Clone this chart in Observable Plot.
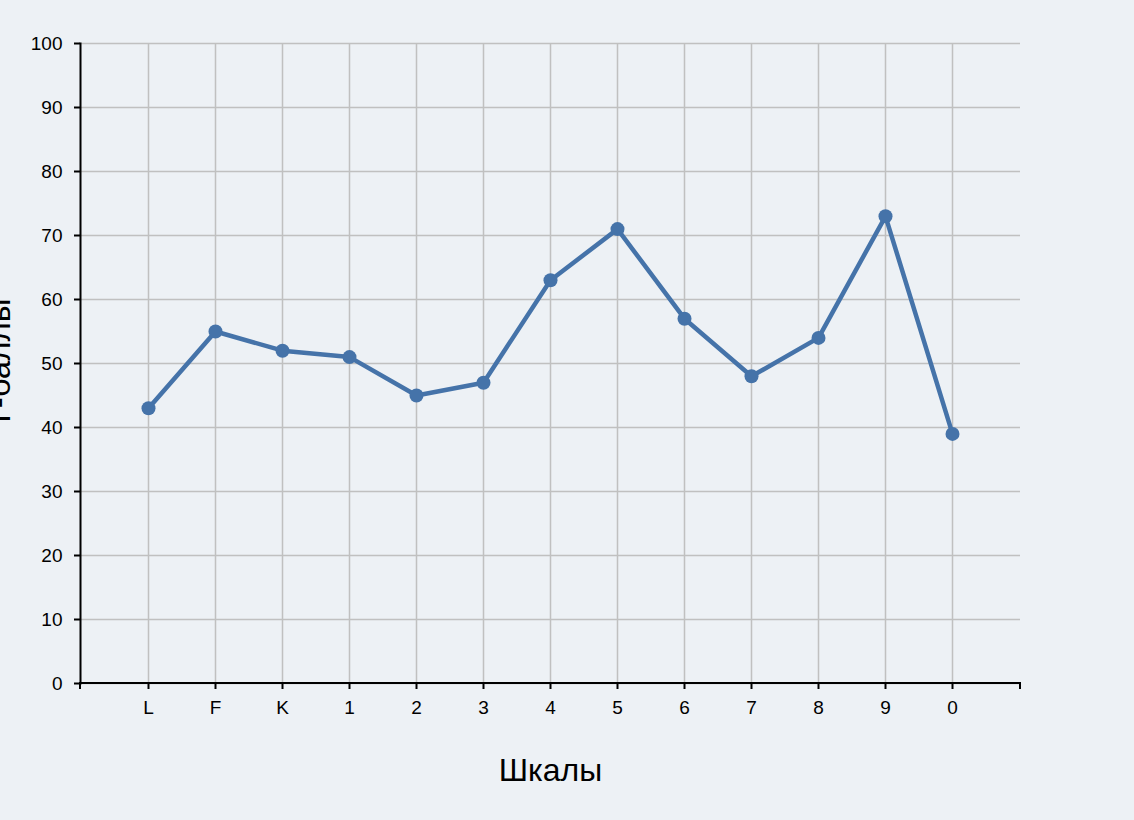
<!DOCTYPE html>
<html>
<head>
<meta charset="utf-8">
<script src="https://cdn.jsdelivr.net/npm/d3@7"></script>
<script src="https://cdn.jsdelivr.net/npm/@observablehq/plot@0.6"></script>
<style>
  html, body { margin: 0; padding: 0; background: #edf1f5; }
  #chart svg { display: block; }
</style>
</head>
<body>
<div id="chart"></div>
<script>
const scales = ["L", "F", "K", "1", "2", "3", "4", "5", "6", "7", "8", "9", "0"];
const tScores = [43, 55, 52, 51, 45, 47, 63, 71, 57, 48, 54, 73, 39];
const yTicks = [0, 10, 20, 30, 40, 50, 60, 70, 80, 90, 100];
const xTitle = "Шкалы";
const yTitle = "Т-баллы";

const data = scales.map((s, i) => ({scale: s, value: tScores[i]}));

const lineColor = "#4573a9";
const gridColor = "#c0c0c0";
const font = "'Liberation Sans', Arial, Helvetica, sans-serif";

// x-axis domain path with outer ticks at the ends of the range (d3-axis style)
function xDomainPath(index, sc, values, dims) {
  const x0 = dims.marginLeft, x1 = dims.width - dims.marginRight;
  const y = dims.height - dims.marginBottom;
  const g = d3.create("svg:g");
  g.append("path")
    .attr("d", `M${x0},${y + 6}V${y}H${x1}V${y + 6}`)
    .attr("fill", "none")
    .attr("stroke", "#000")
    .attr("stroke-width", 2);
  return g.node();
}

const chart = Plot.plot({
  width: 1134,
  height: 820,
  marginTop: 43,
  marginBottom: 137,
  marginLeft: 80,
  marginRight: 114,
  style: {background: "#edf1f5", fontFamily: font, color: "#000"},
  x: {type: "point", domain: scales, padding: 1},
  y: {domain: [0, 100]},
  marks: [
    Plot.gridX(scales, {stroke: gridColor, strokeOpacity: 1, strokeWidth: 1.5}),
    Plot.gridY(yTicks, {stroke: gridColor, strokeOpacity: 1, strokeWidth: 1.5}),
    Plot.axisY(yTicks, {tickSize: 6, tickPadding: 12, fontSize: 19, strokeWidth: 2, tickFormat: d => String(d), label: null}),
    Plot.axisX({tickSize: 6, tickPadding: 11, fontSize: 19, strokeWidth: 2, label: null}),
    Plot.frame({anchor: "left", stroke: "#000", strokeWidth: 2}),
    xDomainPath,
    Plot.line(data, {x: "scale", y: "value", stroke: lineColor, strokeWidth: 4.5, strokeLinejoin: "round"}),
    Plot.dot(data, {x: "scale", y: "value", r: 7, fill: lineColor, stroke: "none"}),
    Plot.text([xTitle], {text: d => d, frameAnchor: "bottom", dy: 97, lineAnchor: "bottom", fontSize: 32, fill: "#000"}),
    Plot.text([yTitle], {text: d => d, frameAnchor: "left", dx: -71, dy: 0, rotate: -90, lineAnchor: "bottom", textAnchor: "middle", fontSize: 33, fill: "#000"})
  ]
});

document.getElementById("chart").appendChild(chart);
</script>
</body>
</html>
